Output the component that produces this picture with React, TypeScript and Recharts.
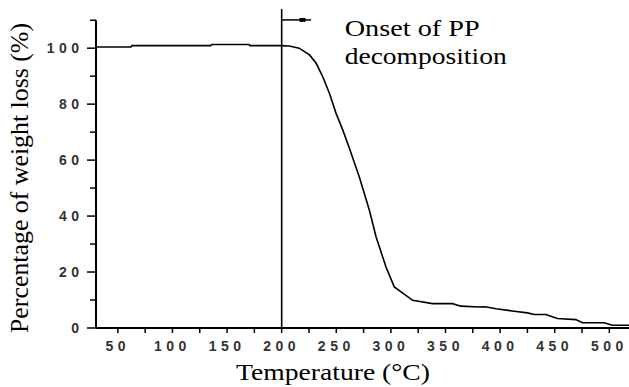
import React from 'react';
import { LineChart, Line, XAxis, YAxis, ReferenceLine, ReferenceArea } from 'recharts';

// temperature (°C) vs remaining weight (%)
const temperature = [30, 62, 63, 135, 136, 170, 171, 198, 207, 216, 225.5, 231.6, 237.6, 243.7, 249.8, 255.9, 262, 271.1, 280.3, 286.4, 295.5, 303.1, 319.9, 338.1, 356.4, 364, 380.7, 386, 396.3, 412.9, 425, 431.3, 441.9, 452.5, 469.3, 475.4, 495.2, 502.8, 531];
const weightLoss = [100.4, 100.4, 100.9, 100.9, 101.3, 101.3, 100.9, 100.9, 100.8, 100, 97.6, 94.6, 89.8, 83.9, 76.7, 70.8, 64.2, 54.0, 42.1, 32.6, 21.8, 14.7, 9.9, 8.7, 8.7, 7.8, 7.5, 7.6, 6.9, 6.0, 5.4, 4.8, 4.8, 3.4, 3.0, 1.9, 1.9, 1.0, 1.0];

const xTicks = [50, 75, 100, 125, 150, 175, 200, 225, 250, 275, 300, 325, 350, 375, 400, 425, 450, 475, 500];
const yTicks = [0, 10, 20, 30, 40, 50, 60, 70, 80, 90, 100, 110];

const onsetT = 200;
const arrowEnd = 227;
const arrowLevel = 110.1;

const data = temperature.map((t, i) => ({ t, w: weightLoss[i] }));

const serif = '"Liberation Serif", "Times New Roman", serif';
const sans = '"Liberation Sans", Arial, sans-serif';

const XTick = (props: any) => {
    const { x, y, payload } = props;
    const v = payload.value;
    return (
        <g>
            <line x1={x} x2={x} y1={y} y2={y + 5} stroke="#000" strokeWidth={1.5} />
            {v % 50 === 0 && (
                <text x={x} y={y + 23} textAnchor="middle" fontFamily={sans} fontWeight="bold" fontSize={14} letterSpacing={4.5} fill="#333">
                    {v}
                </text>
            )}
        </g>
    );
};

const YTick = (props: any) => {
    const { x, y, payload } = props;
    const v = payload.value;
    const major = v % 20 === 0;
    return (
        <g>
            <line x1={x - (major ? 9 : 6)} x2={x} y1={y} y2={y} stroke="#000" strokeWidth={1.5} />
            {major && (
                <text x={x - 12.5} y={y} dy="0.36em" textAnchor="end" fontFamily={sans} fontWeight="bold" fontSize={14} letterSpacing={4.5} fill="#333">
                    {v}
                </text>
            )}
        </g>
    );
};

const App = () => {
    return (
        <div style={{ position: 'absolute', left: 0, top: 0, background: '#fff' }}>
            <LineChart width={629} height={387} data={data} margin={{ top: 9, right: 0, bottom: 0, left: 0 }}>
                <XAxis
                    type="number"
                    dataKey="t"
                    domain={[30, 518]}
                    allowDataOverflow
                    ticks={xTicks}
                    interval={0}
                    height={59}
                    tickSize={0}
                    tickMargin={0}
                    tickLine={false}
                    tick={XTick}
                    axisLine={{ stroke: '#000', strokeWidth: 2 }}
                    label={{
                        content: (p: any) => (
                            <text x={236} y={380} fontFamily={serif} fontSize={24} textLength={194} lengthAdjust="spacingAndGlyphs" fill="#000">
                                Temperature (°C)
                            </text>
                        ),
                    }}
                />
                <YAxis
                    type="number"
                    domain={[0, 114]}
                    allowDataOverflow
                    ticks={yTicks}
                    interval={0}
                    width={96}
                    tickSize={0}
                    tickMargin={0}
                    tickLine={false}
                    tick={YTick}
                    axisLine={false}
                    label={{
                        content: () => (
                            <text
                                x={0}
                                y={0}
                                transform="translate(28, 333) rotate(-90)"
                                fontFamily={serif}
                                fontSize={25}
                                textLength={310}
                                lengthAdjust="spacingAndGlyphs"
                                fill="#000"
                            >
                                Percentage of weight loss (%)
                            </text>
                        ),
                    }}
                />
                <ReferenceLine
                    segment={[{ x: 30, y: 0 }, { x: 30, y: 110 }]}
                    stroke="#000"
                    strokeWidth={2}
                />
                <ReferenceLine
                    x={onsetT}
                    stroke="#000"
                    strokeWidth={1.6}
                    label={{
                        content: (p: any) => {
                            const vb = p.viewBox || { x: 281, y: 9 };
                            return (
                                <g fontFamily={serif} fontSize={24} fill="#000">
                                    <text x={vb.x + 63} y={vb.y + 27} textLength={135} lengthAdjust="spacingAndGlyphs">Onset of PP</text>
                                    <text x={vb.x + 63} y={vb.y + 55} textLength={162} lengthAdjust="spacingAndGlyphs">decomposition</text>
                                </g>
                            );
                        },
                    }}
                />
                <ReferenceLine
                    segment={[{ x: onsetT, y: arrowLevel }, { x: arrowEnd, y: arrowLevel }]}
                    stroke="#000"
                    strokeWidth={1.5}
                />
                <ReferenceArea x1={216.3} x2={221.8} y1={109.4} y2={110.8} fill="#000" fillOpacity={1} stroke="none" />
                <Line
                    type="linear"
                    dataKey="w"
                    stroke="#000"
                    strokeWidth={1.6}
                    dot={false}
                    isAnimationActive={false}
                />
            </LineChart>
        </div>
    );
};

export default App;
